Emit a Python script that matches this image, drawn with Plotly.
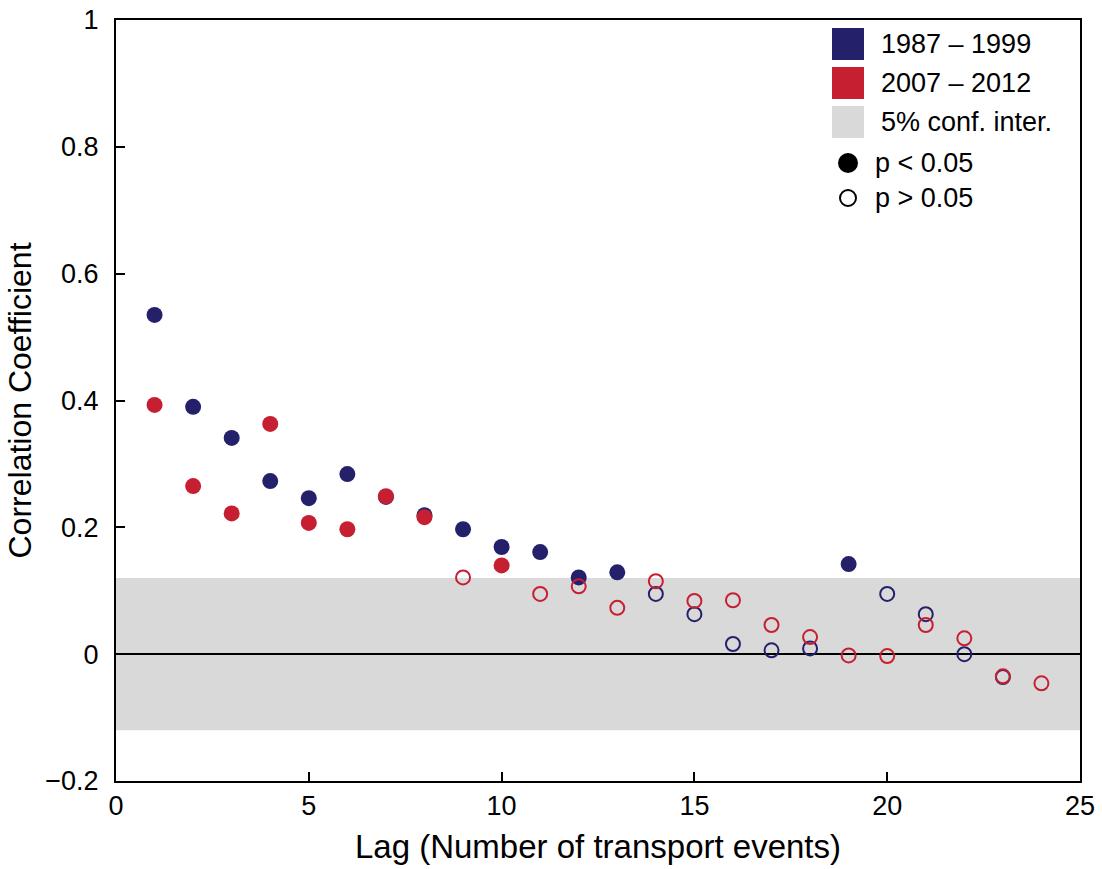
import plotly.graph_objects as go

# ---- data ----
lags_blue = list(range(1, 24))
corr_blue = [0.535, 0.390, 0.341, 0.273, 0.246, 0.284, 0.248, 0.219, 0.197, 0.169,
             0.161, 0.121, 0.129, 0.095, 0.063, 0.016, 0.006, 0.009, 0.142, 0.095,
             0.063, 0.000, -0.036]
sig_blue = [1, 1, 1, 1, 1, 1, 1, 1, 1, 1, 1, 1, 1, 0, 0, 0, 0, 0, 1, 0, 0, 0, 0]

lags_red = list(range(1, 25))
corr_red = [0.393, 0.265, 0.222, 0.363, 0.207, 0.197, 0.249, 0.216, 0.121, 0.140,
            0.095, 0.107, 0.073, 0.115, 0.084, 0.085, 0.046, 0.027, -0.002, -0.003,
            0.046, 0.025, -0.035, -0.046]
sig_red = [1, 1, 1, 1, 1, 1, 1, 1, 0, 1, 0, 0, 0, 0, 0, 0, 0, 0, 0, 0, 0, 0, 0, 0]

conf_interval = 0.12

series_names = ["1987 \u2013 1999", "2007 \u2013 2012"]
ci_name = "5% conf. inter."
sig_names = ["p < 0.05", "p > 0.05"]

BLUE = "#24216a"
RED = "#c71f32"
GREY = "#d9d9d9"
FONT = "Liberation Sans, Arial, Helvetica, sans-serif"

fig = go.Figure()


def add_series(lags, vals, sig, color):
    xf = [l for l, s in zip(lags, sig) if s]
    yf = [v for v, s in zip(vals, sig) if s]
    xo = [l for l, s in zip(lags, sig) if not s]
    yo = [v for v, s in zip(vals, sig) if not s]
    fig.add_trace(go.Scatter(x=xf, y=yf, mode="markers", showlegend=False,
                             marker=dict(symbol="circle", size=16, color=color,
                                         line=dict(width=0))))
    fig.add_trace(go.Scatter(x=xo, y=yo, mode="markers", showlegend=False,
                             marker=dict(symbol="circle-open", size=14, color=color,
                                         line=dict(width=2, color=color))))


add_series(lags_blue, corr_blue, sig_blue, BLUE)
add_series(lags_red, corr_red, sig_red, RED)

# confidence band
fig.add_shape(type="rect", xref="paper", yref="y", x0=0, x1=1,
              y0=-conf_interval, y1=conf_interval,
              fillcolor=GREY, line=dict(width=0), layer="below")

# ---- manual legend (paper coords) ----
L = 116
W = 964
B = 781
H = 761


def px(xp):
    return (xp - L) / W


def py(yp):
    return (B - yp) / H


sym_x = px(848)
txt_x = px(879)
rows = [44, 83, 122, 163, 198]
sq_colors = [BLUE, RED, GREY]
labels = series_names + [ci_name]
for i in range(3):
    fig.add_shape(type="rect", xref="paper", yref="paper",
                  xsizemode="pixel", ysizemode="pixel",
                  xanchor=sym_x, yanchor=py(rows[i]),
                  x0=-16, x1=16, y0=-16, y1=16,
                  fillcolor=sq_colors[i], line=dict(width=0))
    fig.add_annotation(x=txt_x, y=py(rows[i]), xref="paper", yref="paper",
                       text=labels[i], showarrow=False, xanchor="left",
                       yanchor="middle", font=dict(size=27, color="black", family=FONT))

fig.add_shape(type="circle", xref="paper", yref="paper",
              xsizemode="pixel", ysizemode="pixel",
              xanchor=sym_x, yanchor=py(rows[3]),
              x0=-10, x1=10, y0=-10, y1=10,
              fillcolor="black", line=dict(width=0))
fig.add_shape(type="circle", xref="paper", yref="paper",
              xsizemode="pixel", ysizemode="pixel",
              xanchor=sym_x, yanchor=py(rows[4]),
              x0=-8, x1=8, y0=-8, y1=8,
              fillcolor="white", line=dict(width=2, color="black"))
for j in range(2):
    fig.add_annotation(x=px(873), y=py(rows[3 + j]), xref="paper", yref="paper",
                       text=sig_names[j], showarrow=False, xanchor="left",
                       yanchor="middle", font=dict(size=27, color="black", family=FONT))

fig.update_layout(
    width=1102, height=869,
    margin=dict(l=116, r=22, t=20, b=88, autoexpand=False),
    plot_bgcolor="white", paper_bgcolor="white",
    font=dict(family=FONT, color="black"),
    showlegend=False,
)
fig.update_xaxes(range=[0, 25], tickvals=[0, 5, 10, 15, 20, 25],
                 ticktext=["0", "5", "10", "15", "20", "25"],
                 ticks="inside", ticklen=9, tickwidth=1.5, tickcolor="black",
                 showline=True, linecolor="black", linewidth=2, mirror=True,
                 showgrid=False, zeroline=False, automargin=False,
                 tickfont=dict(size=27, family=FONT),
                 title=dict(text="Lag (Number of transport events)",
                            font=dict(size=33, family=FONT), standoff=14))
fig.update_yaxes(range=[-0.2, 1.0], tickvals=[-0.2, 0, 0.2, 0.4, 0.6, 0.8, 1.0],
                 ticktext=["\u22120.2", "0", "0.2", "0.4", "0.6", "0.8", "1"],
                 ticks="inside", ticklen=9, tickwidth=1.5, tickcolor="black",
                 showline=True, linecolor="black", linewidth=2, mirror=True,
                 showgrid=False, zeroline=True, zerolinecolor="black", zerolinewidth=2,
                 automargin=False,
                 tickfont=dict(size=27, family=FONT), ticklabelstandoff=10,
                 title=dict(text="Correlation Coefficient",
                            font=dict(size=32, family=FONT), standoff=4))

fig.write_html("out.html")
